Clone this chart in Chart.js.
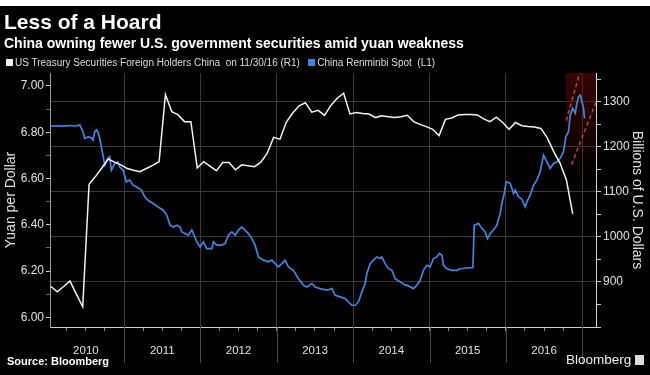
<!DOCTYPE html>
<html>
<head>
<meta charset="utf-8">
<script src="https://cdn.jsdelivr.net/npm/chart.js@4.4.1/dist/chart.umd.min.js"></script>
<style>
  html, body { margin: 0; padding: 0; background: #fff; }
  #frame { position: relative; width: 650px; height: 375px; overflow: hidden; }
  #bg { position: absolute; left: 0; top: 6px; width: 650px; height: 369px; background: #000; }
  #chart { position: absolute; left: 0; top: 0; }
  .txt { position: absolute; color: #fff; font-family: "Liberation Sans", Arial, sans-serif; white-space: pre; line-height: 1; }
  #title { left: 4px; top: 11px; font-size: 21px; font-weight: bold; }
  #subtitle { left: 4px; top: 36px; font-size: 14px; font-weight: bold; }
  #legend { left: 6px; top: 58px; font-size: 10px; color: #ddd; }
  .swatch { display: inline-block; width: 7px; height: 7px; margin-right: 2px; }
  #source { left: 7px; top: 356px; font-size: 11px; font-weight: bold; }
  #brand { left: 566px; top: 353px; font-size: 13.5px; color: #eee; }
  #brand span { display: inline-block; width: 9px; height: 10px; background: #ddd; margin-left: 4px; vertical-align: -1px; }
</style>
</head>
<body>
<div id="frame">
  <div id="bg"></div>
  <canvas id="chart" width="650" height="375"></canvas>
  <div class="txt" id="title">Less of a Hoard</div>
  <div class="txt" id="subtitle">China owning fewer U.S. government securities amid yuan weakness</div>
  <div class="txt" id="legend"><span class="swatch" style="background:#f2f2f2"></span>US Treasury Securities Foreign Holders China  on 11/30/16 (R1)   <span class="swatch" style="background:#3f86dd"></span>China Renminbi Spot  (L1)</div>
  <div class="txt" id="source">Source: Bloomberg</div>
  <div class="txt" id="brand">Bloomberg<span></span></div>
</div>
<script>
// chart data
const years = ['2010', '2011', '2012', '2013', '2014', '2015', '2016'];
const yuanLabels = ['6.00', '6.20', '6.40', '6.60', '6.80', '7.00'];
const holdingLabels = ['900', '1000', '1100', '1200', '1300'];

// China holdings of US Treasuries, billions, monthly from Jan 2010
const holdingsStart = 2010;
const holdings = [
  890, 878, 890, 902, 873, 845, 1117, 1134, 1153, 1173, 1166, 1160,
  1152, 1148, 1145, 1152, 1159, 1167, 1316, 1278, 1271, 1256, 1256, 1153,
  1167, 1157, 1147, 1165, 1165, 1149, 1160, 1158, 1156, 1166, 1186, 1221,
  1217, 1255, 1275, 1291, 1298, 1277, 1281, 1270, 1292, 1308, 1319, 1273,
  1276, 1274, 1273, 1265, 1269, 1267, 1265, 1267, 1270, 1256, 1250, 1245,
  1239, 1225, 1261, 1264, 1271, 1272, 1272, 1271, 1262, 1256, 1266, 1254,
  1239, 1254, 1247, 1245, 1244, 1241, 1220, 1190, 1164, 1127, 1051
];

// USD/CNY spot (fractional year, yuan per dollar)
const rmbYears = [
  2010.040, 2010.120, 2010.200, 2010.290, 2010.360, 2010.420, 2010.462, 2010.485, 2010.528, 2010.571,
  2010.593, 2010.616, 2010.637, 2010.659, 2010.681, 2010.724, 2010.747, 2010.790, 2010.812, 2010.833,
  2010.878, 2010.921, 2010.943, 2010.987, 2011.030, 2011.074, 2011.118, 2011.161, 2011.226, 2011.271,
  2011.314, 2011.380, 2011.445, 2011.514, 2011.559, 2011.602, 2011.645, 2011.690, 2011.733, 2011.756,
  2011.799, 2011.842, 2011.887, 2011.908, 2011.952, 2011.995, 2012.039, 2012.083, 2012.149, 2012.170,
  2012.214, 2012.280, 2012.323, 2012.366, 2012.411, 2012.454, 2012.497, 2012.542, 2012.585, 2012.628,
  2012.673, 2012.716, 2012.759, 2012.825, 2012.890, 2012.935, 2012.978, 2013.021, 2013.066, 2013.109,
  2013.152, 2013.218, 2013.283, 2013.349, 2013.393, 2013.459, 2013.502, 2013.567, 2013.655, 2013.721,
  2013.764, 2013.829, 2013.895, 2013.938, 2013.983, 2014.026, 2014.069, 2014.114, 2014.157, 2014.179,
  2014.223, 2014.266, 2014.310, 2014.353, 2014.376, 2014.419, 2014.462, 2014.507, 2014.550, 2014.616,
  2014.681, 2014.703, 2014.790, 2014.834, 2014.877, 2014.920, 2014.965, 2015.008, 2015.052, 2015.096,
  2015.130, 2015.162, 2015.183, 2015.227, 2015.293, 2015.358, 2015.401, 2015.489, 2015.568, 2015.585,
  2015.641, 2015.686, 2015.729, 2015.759, 2015.795, 2015.838, 2015.882, 2015.925, 2015.948, 2015.978,
  2016.004, 2016.057, 2016.100, 2016.122, 2016.165, 2016.210, 2016.253, 2016.275, 2016.318, 2016.362,
  2016.406, 2016.449, 2016.493, 2016.537, 2016.580, 2016.624, 2016.668, 2016.711, 2016.754, 2016.786,
  2016.820, 2016.843, 2016.873, 2016.908, 2016.930, 2016.951, 2016.974, 2016.996, 2017.017, 2017.030
];
const rmbValues = [
  6.827, 6.828, 6.826, 6.829, 6.827, 6.831, 6.802, 6.774, 6.780, 6.776,
  6.766, 6.802, 6.810, 6.800, 6.774, 6.700, 6.658, 6.687, 6.694, 6.636,
  6.665, 6.672, 6.650, 6.636, 6.586, 6.593, 6.571, 6.564, 6.550, 6.521,
  6.506, 6.492, 6.477, 6.463, 6.442, 6.398, 6.390, 6.398, 6.390, 6.369,
  6.362, 6.355, 6.377, 6.362, 6.326, 6.304, 6.326, 6.297, 6.297, 6.326,
  6.312, 6.312, 6.319, 6.355, 6.369, 6.355, 6.377, 6.390, 6.377, 6.362,
  6.340, 6.312, 6.261, 6.247, 6.240, 6.247, 6.232, 6.218, 6.232, 6.247,
  6.218, 6.203, 6.167, 6.139, 6.131, 6.146, 6.131, 6.124, 6.117, 6.124,
  6.095, 6.088, 6.081, 6.066, 6.052, 6.052, 6.066, 6.110, 6.146, 6.189,
  6.232, 6.247, 6.261, 6.254, 6.261, 6.232, 6.210, 6.203, 6.167, 6.153,
  6.139, 6.139, 6.124, 6.139, 6.160, 6.203, 6.225, 6.218, 6.254, 6.261,
  6.276, 6.268, 6.225, 6.210, 6.203, 6.203, 6.210, 6.213, 6.215, 6.398,
  6.406, 6.384, 6.369, 6.340, 6.362, 6.377, 6.398, 6.449, 6.492, 6.535,
  6.586, 6.579, 6.535, 6.550, 6.521, 6.510, 6.477, 6.499, 6.528, 6.571,
  6.593, 6.629, 6.701, 6.672, 6.644, 6.665, 6.672, 6.687, 6.716, 6.781,
  6.802, 6.874, 6.903, 6.882, 6.925, 6.954, 6.961, 6.932, 6.903, 6.860
];

// red trend channel annotation (year, yuan)
const channelUpper = [[2016.79, 6.85], [2016.97, 7.06]];
const channelLower = [[2016.86, 6.66], [2017.18, 6.93]];
const highlightSpan = [2016.78, 2017.18];
const highlightFloor = 6.60;

const xMin = 2010.03, xMax = 2017.18;
const yuanMin = 5.958, yuanMax = 7.056;
const holdMin = 800, holdMax = 1364;

const quarterTicks = [];
for (let y = 2010; y <= 2017; y++) {
  [0, 0.25, 0.5, 0.75].forEach(q => {
    if (y + q >= xMin && y + q <= xMax) quarterTicks.push(y + q);
  });
}
const yuanTicks = [];
yuanLabels.forEach((l, i) => {
  yuanTicks.push(parseFloat(l));
  if (i < yuanLabels.length - 1) yuanTicks.push(parseFloat(l) + 0.1);
});
const holdTicks = [];
for (let v = holdMin; v < holdMax; v += 50) holdTicks.push(v);

const toPoints = (xs, ys) => xs.map((x, i) => ({ x: x, y: ys[i] }));

Chart.defaults.font.family = '"Liberation Sans", Arial, sans-serif';

// year separators running down through the labels
const yearDividers = {
  id: 'yearDividers',
  afterDraw(chart) {
    const { ctx, chartArea, scales } = chart;
    ctx.save();
    ctx.strokeStyle = '#4a4a4a';
    ctx.lineWidth = 1;
    for (let y = 2011; y <= 2017; y++) {
      const px = Math.round(scales.x.getPixelForValue(y)) + 0.5;
      ctx.beginPath();
      ctx.moveTo(px, chartArea.bottom);
      ctx.lineTo(px, chartArea.bottom + 36);
      ctx.stroke();
    }
    ctx.restore();
  }
};

new Chart(document.getElementById('chart'), {
  type: 'line',
  data: {
    datasets: [
      {
        label: 'US Treasury Securities Foreign Holders China',
        data: holdings.map((v, i) => ({ x: holdingsStart + (i + 0.5) / 12, y: v })),
        yAxisID: 'yR',
        borderColor: '#f2f2f2',
        borderWidth: 1.5,
        pointRadius: 0
      },
      {
        label: 'China Renminbi Spot',
        data: toPoints(rmbYears, rmbValues),
        yAxisID: 'yL',
        borderColor: '#3f86dd',
        borderWidth: 1.7,
        pointRadius: 0
      },
      {
        data: channelUpper.map(p => ({ x: p[0], y: p[1] })),
        yAxisID: 'yL',
        borderColor: '#b8473a',
        borderWidth: 1.5,
        borderDash: [4, 3],
        pointRadius: 0
      },
      {
        data: channelLower.map(p => ({ x: p[0], y: p[1] })),
        yAxisID: 'yL',
        borderColor: '#b8473a',
        borderWidth: 1.5,
        borderDash: [4, 3],
        pointRadius: 0
      },
      {
        data: highlightSpan.map(x => ({ x: x, y: yuanMax })),
        yAxisID: 'yL',
        borderWidth: 0,
        pointRadius: 0,
        fill: { value: highlightFloor },
        backgroundColor: (c) => {
          const { chart } = c;
          if (!chart.chartArea) return 'rgba(90,6,6,0.4)';
          const yS = chart.scales.yL;
          const g = chart.ctx.createLinearGradient(0, yS.getPixelForValue(yuanMax), 0, yS.getPixelForValue(highlightFloor));
          g.addColorStop(0, 'rgba(100,8,8,0.55)');
          g.addColorStop(1, 'rgba(100,8,8,0.0)');
          return g;
        }
      }
    ]
  },
  options: {
    responsive: false,
    animation: false,
    layout: { padding: { top: 73, left: 0, right: 0, bottom: 0 } },
    plugins: { legend: { display: false }, tooltip: { enabled: false } },
    scales: {
      x: {
        type: 'linear',
        position: 'bottom',
        min: xMin,
        max: xMax,
        afterBuildTicks: s => { s.ticks = quarterTicks.map(v => ({ value: v })); },
        afterFit: s => { s.height = 48; },
        grid: {
          color: c => (c.tick && Number.isInteger(c.tick.value) ? '#3a3a3a' : 'transparent'),
          tickColor: '#8a8a8a',
          tickLength: 4
        },
        border: { color: '#d0d0d0' },
        ticks: {
          autoSkip: false,
          maxRotation: 0,
          padding: 13,
          color: '#e0e0e0',
          font: { size: 11.5 },
          callback: v => (v % 1 === 0.5 ? years[Math.floor(v) - 2010] : '')
        }
      },
      yL: {
        type: 'linear',
        position: 'left',
        min: yuanMin,
        max: yuanMax,
        afterBuildTicks: s => { s.ticks = yuanTicks.map(v => ({ value: v })); },
        afterFit: s => { s.width = 50; },
        grid: {
          drawOnChartArea: false,
          tickLength: 4,
          tickColor: c => (c.tick && yuanLabels.some(l => Math.abs(parseFloat(l) - c.tick.value) < 1e-6) ? '#c8c8c8' : '#6a6a6a')
        },
        border: { color: '#9a9a9a' },
        ticks: {
          autoSkip: false,
          padding: 2,
          color: '#e0e0e0',
          font: { size: 12 },
          callback: v => yuanLabels.find(l => Math.abs(parseFloat(l) - v) < 1e-6) || ''
        },
        title: {
          display: true,
          text: 'Yuan per Dollar',
          color: '#e0e0e0',
          font: { size: 14 },
          padding: { top: 3, bottom: 0 }
        }
      },
      yR: {
        type: 'linear',
        position: 'right',
        min: holdMin,
        max: holdMax,
        afterBuildTicks: s => { s.ticks = holdTicks.map(v => ({ value: v })); },
        afterFit: s => { s.width = 54; },
        grid: {
          color: c => (c.tick && c.tick.value % 100 === 0 ? '#3a3a3a' : 'transparent'),
          tickColor: '#c8c8c8',
          tickLength: 5
        },
        border: { color: '#d8d8d8' },
        ticks: {
          autoSkip: false,
          padding: 2,
          color: '#e0e0e0',
          font: { size: 12 },
          callback: v => (holdingLabels.includes(String(v)) ? String(v) : '')
        },
        title: {
          display: true,
          text: 'Billions of U.S. Dollars',
          color: '#e0e0e0',
          font: { size: 14 },
          padding: { top: 5, bottom: 0 }
        }
      }
    }
  },
  plugins: [yearDividers]
});
</script>
</body>
</html>
